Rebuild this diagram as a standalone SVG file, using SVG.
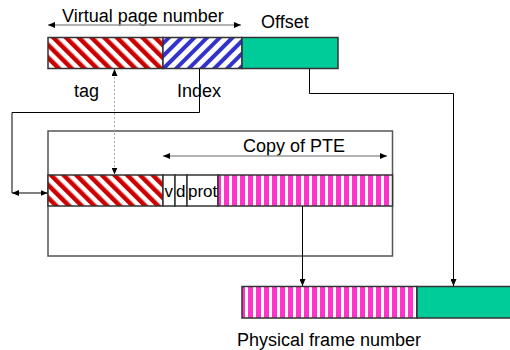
<svg xmlns="http://www.w3.org/2000/svg" width="510" height="350" viewBox="0 0 510 350">
  <style>
    text { font-family: "Liberation Sans", Arial, sans-serif; font-size: 18px; fill: #000; }
    .small { font-size: 17px; }
    .field { stroke: #333; stroke-width: 1.5; }
    .box { fill: none; stroke: #555; stroke-width: 1.5; }
    .wire { fill: none; stroke: #000; stroke-width: 1; }
    .grey { fill: none; stroke: #999; stroke-width: 1.5; }
    .dots { fill: none; stroke: #aaa; stroke-width: 1; stroke-dasharray: 2 2; }
  </style>
  <defs>
    <pattern id="red" patternUnits="userSpaceOnUse" width="9" height="9" patternTransform="rotate(-45)">
      <rect width="9" height="9" fill="#fff"/>
      <rect width="4.5" height="9" fill="#cc0000"/>
    </pattern>
    <pattern id="blue" patternUnits="userSpaceOnUse" width="9" height="9" patternTransform="rotate(45)">
      <rect width="9" height="9" fill="#fff"/>
      <rect width="4" height="9" fill="#3333cc"/>
    </pattern>
    <pattern id="pink" patternUnits="userSpaceOnUse" width="8" height="8">
      <rect width="8" height="8" fill="#fff"/>
      <rect width="5" height="8" fill="#ff33cc"/>
    </pattern>
    <marker id="ah" markerUnits="userSpaceOnUse" markerWidth="7" markerHeight="6" refX="7" refY="3" orient="auto-start-reverse">
      <path d="M0,0 L7,3 L0,6 z" fill="#000"/>
    </marker>
  </defs>

  <g id="virtual-address">
    <rect id="vpn-tag" class="field" x="48" y="37.5" width="115" height="31" fill="url(#red)"/>
    <rect id="vpn-index" class="field" x="163" y="37.5" width="79" height="31" fill="url(#blue)"/>
    <rect id="offset" class="field" x="242" y="37.5" width="96" height="31" fill="#00cc99"/>
    <text x="62" y="22">Virtual page number</text>
    <text x="261" y="28">Offset</text>
    <text x="74" y="97">tag</text>
    <text x="177" y="97">Index</text>
  </g>

  <g id="tlb-cache">
    <rect class="box" x="48" y="131" width="344.5" height="125"/>
    <text x="243" y="152">Copy of PTE</text>
    <rect id="entry-tag" class="field" x="48" y="175" width="115" height="31" fill="url(#red)"/>
    <rect class="field" x="163" y="175" width="12" height="31" fill="#fff"/>
    <rect class="field" x="175" y="175" width="12" height="31" fill="#fff"/>
    <rect class="field" x="187" y="175" width="31" height="31" fill="#fff"/>
    <rect id="entry-pfn" class="field" x="218" y="175" width="174.5" height="31" fill="url(#pink)"/>
    <text class="small" x="164.5" y="197">v</text>
    <text class="small" x="176" y="197">d</text>
    <text class="small" x="188" y="197">prot</text>
  </g>

  <g id="physical-address">
    <rect id="pfn" class="field" x="242" y="286.5" width="175" height="31.5" fill="url(#pink)"/>
    <rect id="phys-offset" class="field" x="417" y="286.5" width="95" height="31.5" fill="#00cc99"/>
    <text x="237" y="346">Physical frame number</text>
  </g>

  <g id="connectors">
    <line class="grey" x1="48" y1="25" x2="241" y2="25" marker-start="url(#ah)" marker-end="url(#ah)"/>
    <line class="grey" x1="163" y1="156" x2="387" y2="156" marker-start="url(#ah)" marker-end="url(#ah)"/>
    <path class="dots" d="M114.5,69 V174.5" marker-start="url(#ah)" marker-end="url(#ah)"/>
    <path class="wire" d="M199.5,69 V112.5 H12 V193"/>
    <line class="wire" x1="12" y1="193" x2="47.5" y2="193" marker-start="url(#ah)" marker-end="url(#ah)"/>
    <path class="wire" d="M302.5,206 V286" marker-end="url(#ah)"/>
    <path class="wire" d="M309.5,69 V93.5 H453.5 V286" marker-end="url(#ah)"/>
  </g>
</svg>
